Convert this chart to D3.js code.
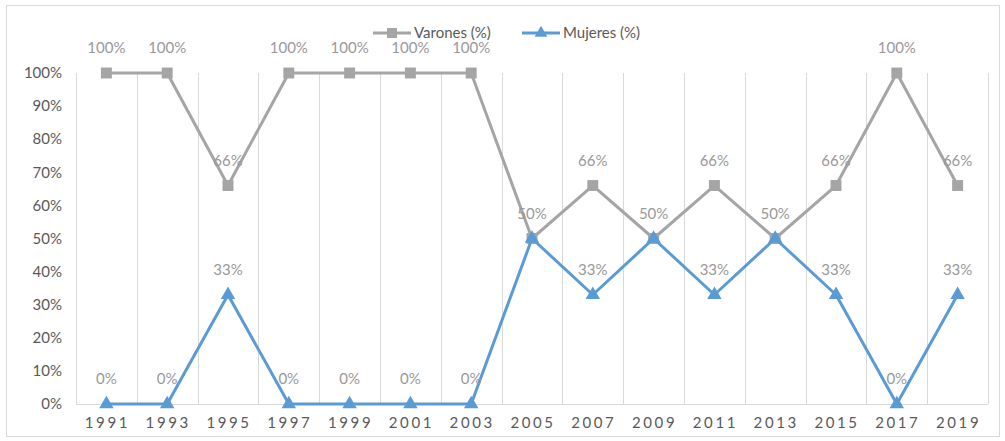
<!DOCTYPE html>
<html>
<head>
<meta charset="utf-8">
<script src="https://d3js.org/d3.v7.min.js"></script>
<style>
  body { margin: 0; background: #fff; }
  text { font-family: Lato, Calibri, "Liberation Sans", Arial, sans-serif; }
</style>
</head>
<body>
<div id="chart"></div>
<script>
    // values
    var years = ["1991", "1993", "1995", "1997", "1999", "2001", "2003", "2005",
                 "2007", "2009", "2011", "2013", "2015", "2017", "2019"];
    var varones = [100, 100, 66, 100, 100, 100, 100, 50, 66, 50, 66, 50, 66, 100, 66];
    var mujeres = [0, 0, 33, 0, 0, 0, 0, 50, 33, 50, 33, 50, 33, 0, 33];
    var yTicks = [0, 10, 20, 30, 40, 50, 60, 70, 80, 90, 100];

    var W = 1005, H = 441;
    var margin = {top: 73, right: 17, bottom: 37, left: 76},
        width = W - margin.left - margin.right,
        height = H - margin.top - margin.bottom;

    var svg = d3.select("#chart").append("svg")
        .attr("width", W)
        .attr("height", H);

    // outer frame
    svg.append("rect")
        .attr("x", 6.5).attr("y", 5.5)
        .attr("width", 993).attr("height", 431)
        .attr("fill", "none")
        .attr("stroke", "#d9d9d9");

    var g = svg.append("g")
        .attr("transform", "translate(" + margin.left + "," + margin.top + ")");

    var x = d3.scaleBand().domain(years).range([0, width]);
    var y = d3.scaleLinear().domain([0, 100]).range([height, 0]);

    // vertical gridlines at category boundaries
    var bounds = years.map(function(d) { return x(d); }).concat([width]);
    g.selectAll(".vgrid")
        .data(bounds)
        .enter().append("line")
        .attr("class", "vgrid")
        .attr("x1", function(d) { return Math.round(d) + 0.5; })
        .attr("x2", function(d) { return Math.round(d) + 0.5; })
        .attr("y1", 0)
        .attr("y2", height)
        .attr("stroke", "#d9d9d9");

    // bottom axis line
    g.append("line")
        .attr("x1", 0).attr("x2", width)
        .attr("y1", height + 0.5).attr("y2", height + 0.5)
        .attr("stroke", "#d9d9d9");

    // y tick labels
    g.selectAll(".ytick")
        .data(yTicks)
        .enter().append("text")
        .attr("class", "ytick")
        .attr("x", -14)
        .attr("y", function(d) { return y(d); })
        .attr("dy", "0.35em")
        .attr("text-anchor", "end")
        .attr("font-size", 15)
        .attr("fill", "#595959")
        .text(function(d) { return d + "%"; });

    // x tick labels
    g.selectAll(".xtick")
        .data(years)
        .enter().append("text")
        .attr("class", "xtick")
        .attr("x", function(d) { return x(d) + x.bandwidth() / 2 + 1; })
        .attr("y", height + 19)
        .attr("dy", "0.35em")
        .attr("text-anchor", "middle")
        .attr("font-size", 15)
        .attr("letter-spacing", "2.6px")
        .attr("fill", "#595959")
        .text(function(d) { return d; });

    var cx = function(d, i) { return x(years[i]) + x.bandwidth() / 2; };

    var line = d3.line()
        .x(function(d, i) { return cx(d, i); })
        .y(function(d) { return y(d); });

    var series = [
        {name: "Varones (%)", values: varones, color: "#a5a5a5", shape: d3.symbolSquare},
        {name: "Mujeres (%)", values: mujeres, color: "#5b9bd5", shape: d3.symbolTriangle}
    ];

    series.forEach(function(s) {
        g.append("path")
            .datum(s.values)
            .attr("d", line)
            .attr("fill", "none")
            .attr("stroke", s.color)
            .attr("stroke-width", 3)
            .attr("stroke-linejoin", "round");

        g.selectAll(null)
            .data(s.values)
            .enter().append("path")
            .attr("d", d3.symbol().type(s.shape).size(s.shape === d3.symbolSquare ? 120 : 90))
            .attr("transform", function(d, i) { return "translate(" + cx(d, i) + "," + y(d) + ")"; })
            .attr("fill", s.color);
    });

    // data labels (one label where both series meet)
    series.forEach(function(s, k) {
        g.selectAll(null)
            .data(s.values.map(function(v, i) { return {v: v, i: i}; })
                .filter(function(d) { return k === 0 || varones[d.i] !== d.v; }))
            .enter().append("text")
            .attr("x", function(d) { return cx(d.v, d.i); })
            .attr("y", function(d) { return y(d.v) - 25; })
            .attr("dy", "0.35em")
            .attr("text-anchor", "middle")
            .attr("font-size", 15)
            .attr("fill", "#999999")
            .text(function(d) { return d.v + "%"; });
    });

    // legend
    var legend = svg.append("g").attr("transform", "translate(0,33)");
    var legX = [373, 522];
    series.forEach(function(s, i) {
        var lg = legend.append("g").attr("transform", "translate(" + legX[i] + ",0)");
        lg.append("line")
            .attr("x1", 0).attr("x2", 38)
            .attr("y1", 0).attr("y2", 0)
            .attr("stroke", s.color)
            .attr("stroke-width", 3);
        lg.append("path")
            .attr("d", d3.symbol().type(s.shape).size(s.shape === d3.symbolSquare ? 100 : 70))
            .attr("transform", "translate(19,0)")
            .attr("fill", s.color);
        lg.append("text")
            .attr("x", 41)
            .attr("y", 0)
            .attr("dy", "0.35em")
            .attr("font-size", 15)
            .attr("fill", "#595959")
            .text(s.name);
    });
</script>
</body>
</html>
